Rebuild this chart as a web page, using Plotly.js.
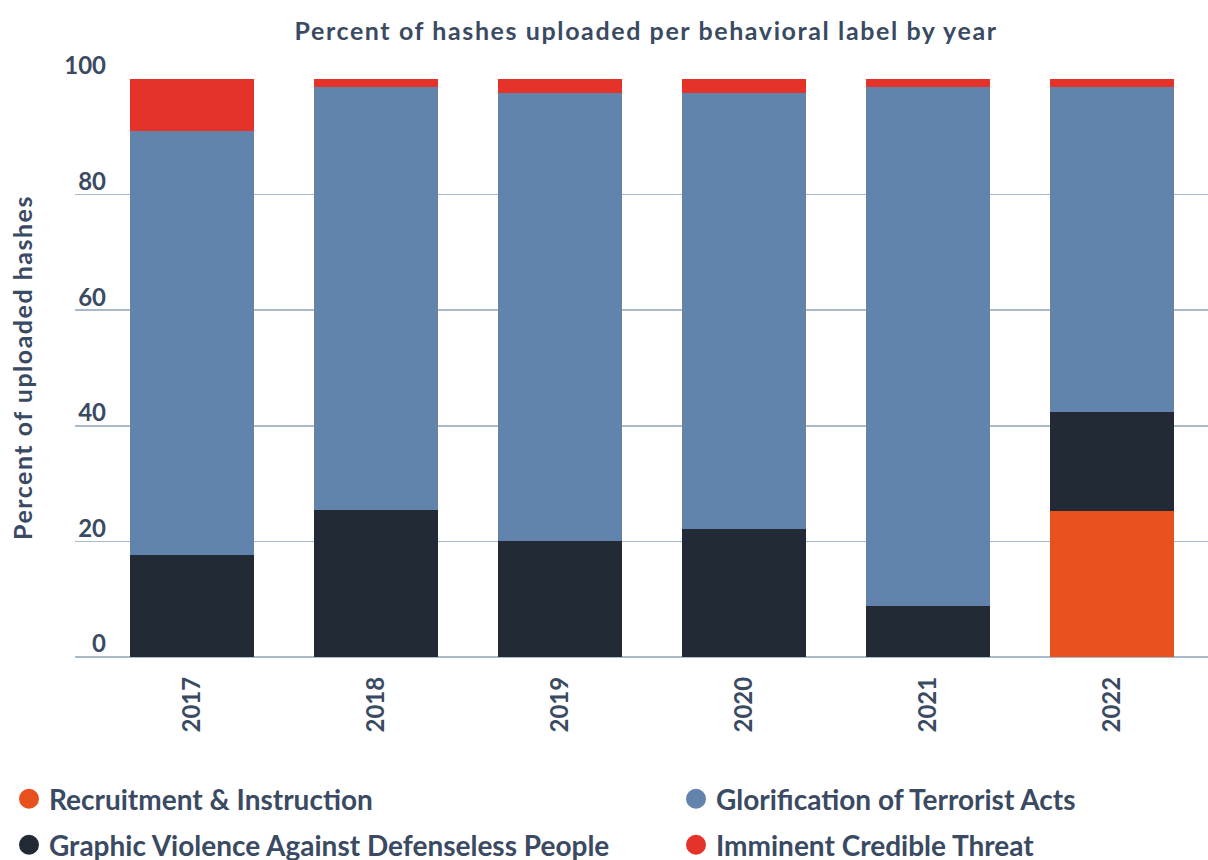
<!DOCTYPE html>
<html><head><meta charset="utf-8">
<script src="https://cdn.plot.ly/plotly-3.0.1.min.js"></script>
<style>
html,body{margin:0;padding:0;background:#fff}#chart{width:1208px;height:860px}
.gtitle{letter-spacing:1.6px}
.annotation-text{letter-spacing:1.5px}
</style>
</head><body><div id="chart"></div>
<script>
const years = ['2017','2018','2019','2020','2021','2022'];
const recruitment = [0, 0, 0, 0, 0, 25.3];
const graphic = [17.7, 25.4, 20.1, 22.1, 8.8, 17.1];
const glorification = [73.3, 73.2, 77.5, 75.5, 89.8, 56.2];
const imminent = [9.0, 1.4, 2.4, 2.4, 1.4, 1.4];
const seriesNames = ['Recruitment & Instruction','Graphic Violence Against Defenseless People','Glorification of Terrorist Acts','Imminent Credible Threat'];
const colors = ['#E8501E','#212A35','#6283AB','#E5332A'];
const yTicks = [0,20,40,60,80,100];

const txt = '#3A4A63';
const font = 'Lato, "Open Sans", sans-serif';
const vals = [recruitment, graphic, glorification, imminent];
const traces = vals.map((v,i)=>({
  type:'bar', x:years, y:v, name:seriesNames[i], marker:{color:colors[i]},
  showlegend:false, width:0.675, hoverinfo:'y+name'
}));
// one legend per entry, laid out in two columns and two rows
const legendSpots = [['legend',9,799],['legend2',9,845],['legend3',676,799],['legend4',676,845]];
const legendOfSeries = [0,1,2,3];
const legendFont = {size:28, color:txt, family:font, weight:'bold'};
const layout = {
  width:1208, height:860, barmode:'stack',
  margin:{l:75, r:0, t:79, b:203},
  paper_bgcolor:'#fff', plot_bgcolor:'#fff',
  font:{family:font, color:txt},
  title:{text:'Percent of hashes uploaded per behavioral label by year', font:{size:25, color:txt, family:font, weight:'bold'}, x:0.504, xref:'paper', xanchor:'center', yref:'container', y:1-31/860, yanchor:'middle'},
  xaxis:{type:'category', range:[-0.636, 5.52], tickangle:-90, tickfont:{size:24, color:txt, family:font, weight:'bold'}, showgrid:false, showline:false, zeroline:false, ticks:'', ticklabelstandoff:14, automargin:false},
  yaxis:{range:[0,100], tickvals:yTicks, ticktext:yTicks.map(String), gridcolor:'#A9B9C9', gridwidth:1.5, zeroline:true, zerolinecolor:'#A9B9C9', zerolinewidth:1.5, showline:false,
    tickfont:{size:24, color:txt, family:font, weight:'bold'}, ticklabelstandoff:-32, ticklabelshift:-13, automargin:false},
  annotations:[{text:'Percent of uploaded hashes', textangle:-90, xref:'paper', x:(22-75)/1133, xanchor:'center', yref:'paper', y:0.5, yanchor:'middle', showarrow:false,
    font:{size:25, color:txt, family:font, weight:'bold'}}],
  showlegend:true
};
legendOfSeries.forEach((idx,k)=>{
  const [lg, px, py] = legendSpots[k];
  traces.push({type:'scatter', mode:'markers', x:[null], y:[null], name:seriesNames[idx],
    marker:{color:colors[idx], size:20, symbol:'circle', line:{color:colors[idx], width:4}}, legend:lg, showlegend:true, hoverinfo:'skip'});
  layout[lg] = {orientation:'h', xref:'container', x:px/1208, xanchor:'left', yref:'container', y:(860-py)/860, yanchor:'middle',
    font:legendFont, itemsizing:'trace', bgcolor:'rgba(0,0,0,0)'};
});
Plotly.newPlot('chart', traces, layout, {displayModeBar:false, staticPlot:true});
</script></body></html>
